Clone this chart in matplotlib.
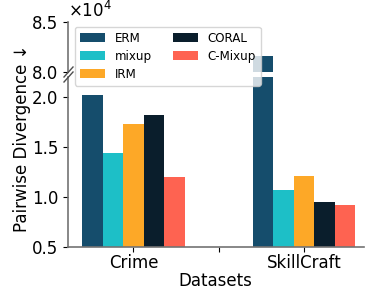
import matplotlib
matplotlib.use("Agg")
import matplotlib.pyplot as plt
import numpy as np

datasets = ["Crime", "SkillCraft"]
methods = ["ERM", "mixup", "IRM", "CORAL", "C-Mixup"]
# pairwise divergence, units of 1e4
erm = [2.02, 8.16]
mixup = [1.44, 1.07]
irm = [1.73, 1.21]
coral = [1.82, 0.95]
cmixup = [1.20, 0.92]
values = [erm, mixup, irm, coral, cmixup]
colors = ["#154d6c", "#1dbfc7", "#fda827", "#0a1e2c", "#fe6351"]

plt.rcParams["font.size"] = 12

W, H = 365, 289
fig = plt.figure(figsize=(3.65, 2.89), dpi=100)
ax_top = fig.add_axes([0.186, 0.7509, 0.81, 0.173])
ax_bot = fig.add_axes([0.186, 0.1453, 0.81, 0.5883])

width = 0.12
x = np.arange(len(datasets))
handles = []
for i, (name, vals, c) in enumerate(zip(methods, values, colors)):
    off = (i - 2) * width
    h = ax_bot.bar(x + off, vals, width, color=c, label=name)
    ax_top.bar(x + off, vals, width, color=c)
    handles.append(h)

ax_top.set_ylim(8.0, 8.5)
ax_bot.set_ylim(0.5, 2.2)
for ax in (ax_top, ax_bot):
    ax.set_xlim(-0.385, 1.35)
    ax.spines["top"].set_visible(False)
    ax.spines["right"].set_visible(False)
    for s in ("left", "bottom"):
        ax.spines[s].set_color("0.45")
        ax.spines[s].set_linewidth(1.2)

ax_top.spines["bottom"].set_visible(False)
ax_top.set_xticks([])
ax_top.set_yticks([8.0, 8.5])
ax_top.set_yticklabels(["8.0", "8.5"])
ax_top.text(0.0, 1.02, r"$\times10^{4}$", transform=ax_top.transAxes,
            ha="left", va="bottom", fontsize=12)

ax_bot.set_yticks([0.5, 1.0, 1.5, 2.0])
ax_bot.set_xticks([0, 0.5, 1])
ax_bot.set_xticklabels(["Crime", "", "SkillCraft"])
ax_bot.tick_params(axis="x", pad=1.5)
ax_bot.set_xlabel("Datasets", labelpad=0)

# break marks (figure pixels -> fraction)
for yc in (72, 77):
    fig.lines.append(plt.Line2D([64 / W, 73 / W], [1 - (yc + 5) / H, 1 - (yc - 5) / H],
                                transform=fig.transFigure, color="0.3", linewidth=1.0))

fig.text(0.06, 0.52, "Pairwise Divergence ↓", rotation=90,
         ha="center", va="center", fontsize=12)

fig.legend(handles, methods, ncol=2, fontsize=8.6, loc="upper left",
           bbox_to_anchor=(75 / W, 1 - 27 / H), borderaxespad=0, framealpha=0.8,
           handlelength=2.1, columnspacing=1.8, labelspacing=0.42)

fig.savefig("out.png", dpi=100)
